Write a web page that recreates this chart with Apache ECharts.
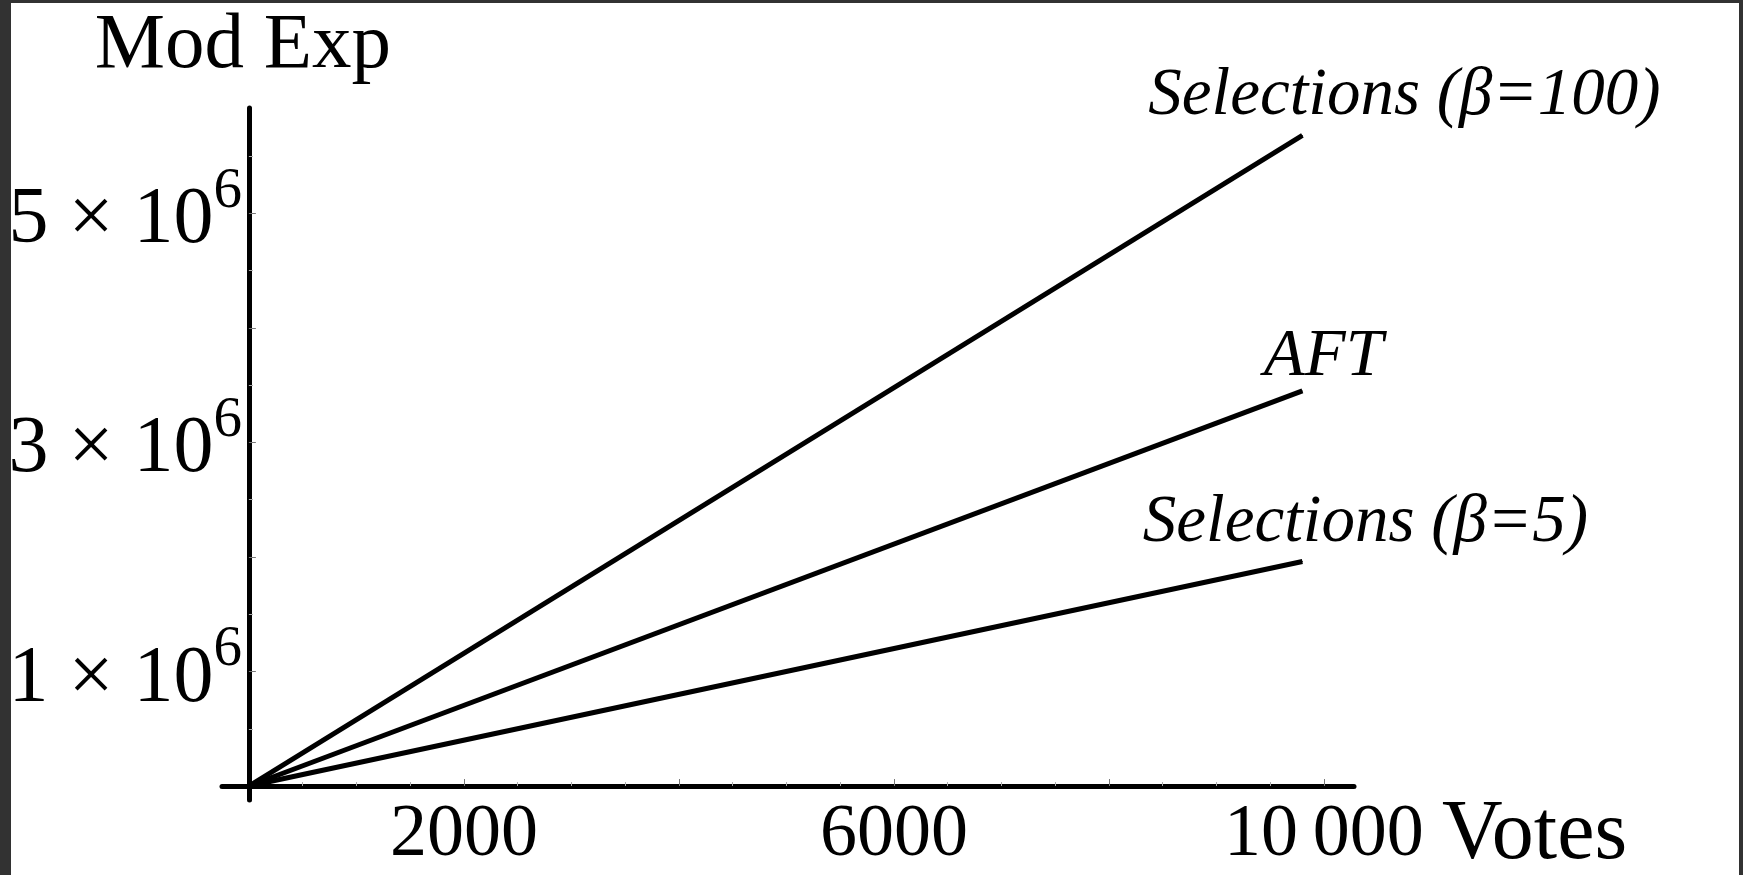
<!DOCTYPE html>
<html>
<head>
<meta charset="utf-8">
<title>Mod Exp vs Votes</title>
<script src="https://cdn.jsdelivr.net/npm/echarts@6/dist/echarts.min.js"></script>
<style>
  html, body { margin: 0; padding: 0; background: #fff; }
  #frame {
    position: absolute; left: 0; top: 0; width: 1743px; height: 875px;
    box-sizing: border-box; border-style: solid; border-color: #323232;
    border-width: 3px 4px 0 11px;
  }
  #main { position: absolute; left: 0; top: 0; width: 1743px; height: 875px; }
</style>
</head>
<body>
<div id="frame"></div>
<div id="main"></div>
<script>
// values
var votes = [0, 9800];
var selBeta100 = [0, 5680000];
var aftValues = [0, 3450000];
var selBeta5 = [0, 1960000];

var xLabelValues = [2000, 6000, 10000];
var xMajorTicks = [2000, 4000, 6000, 8000, 10000];
var xMinorTicks = [500, 1000, 1500, 2500, 3000, 3500, 4500, 5000, 5500, 6500, 7000, 7500, 8500, 9000, 9500];
var yLabelValues = [1000000, 3000000, 5000000];
var yMajorTicks = [1000000, 2000000, 3000000, 4000000, 5000000];
var yMinorTicks = [500000, 1500000, 2500000, 3500000, 4500000, 5500000];

var serif = '"Liberation Serif", "DejaVu Serif", serif';

function pairs(xs, ys) {
    var out = [];
    for (var i = 0; i < xs.length; i++) out.push([xs[i], ys[i]]);
    return out;
}

// label sits on the last point of each line
function lineData(ys, name, offset) {
    var d = pairs(votes, ys);
    var last = d.length - 1;
    d[last] = {
        value: d[last],
        label: {
            show: true,
            position: 'top',
            distance: 5,
            offset: offset,
            formatter: name,
            fontFamily: serif,
            fontStyle: 'italic',
            fontSize: 67,
            color: '#000'
        }
    };
    return d;
}

function lineSeries(name, ys, offset) {
    return {
        name: name,
        type: 'line',
        data: lineData(ys, name, offset),
        symbol: 'circle',
        symbolSize: 1,
        showSymbol: true,
        itemStyle: { color: '#000' },
        lineStyle: { color: '#000', width: 5 },
        silent: true
    };
}

var chart = echarts.init(document.getElementById('main'));

var option = {
    animation: false,
    backgroundColor: 'transparent',
    grid: { left: 222, right: 389, top: 108, bottom: 75, containLabel: false, outerBoundsMode: 'none' },
    xAxis: [
        {
            type: 'value',
            min: -250,
            max: 10280,
            name: 'Votes',
            nameLocation: 'end',
            nameGap: 88,
            nameTextStyle: {
                fontFamily: serif, fontSize: 84, color: '#000',
                align: 'left', verticalAlign: 'top', padding: [8, 0, 0, 0]
            },
            splitLine: { show: false },
            axisLine: { onZero: true, lineStyle: { color: '#000', width: 5 } },
            axisTick: {
                inside: true, length: 7, customValues: xMajorTicks,
                lineStyle: { color: '#777', width: 1 }
            },
            axisLabel: {
                customValues: xLabelValues,
                margin: -1,
                fontFamily: serif, fontSize: 74, color: '#000',
                formatter: function (v) {
                    return v >= 10000 ? '10\u2009000' : String(v);
                }
            }
        },
        {
            type: 'value',
            min: -250,
            max: 10280,
            position: 'bottom',
            splitLine: { show: false },
            axisLine: { show: false, onZero: true },
            axisTick: {
                inside: true, length: 4, customValues: xMinorTicks,
                lineStyle: { color: '#aaa', width: 1 }
            },
            axisLabel: { show: false }
        }
    ],
    yAxis: [
        {
            type: 'value',
            min: -122000,
            max: 5920000,
            name: 'Mod Exp',
            nameLocation: 'end',
            nameGap: 22,
            nameTextStyle: { fontFamily: serif, fontSize: 79, color: '#000', padding: [0, 12, 0, 0] },
            splitLine: { show: false },
            axisLine: { onZero: true, lineStyle: { color: '#000', width: 5 } },
            axisTick: {
                inside: true, length: 7, customValues: yMajorTicks,
                lineStyle: { color: '#777', width: 1 }
            },
            axisLabel: {
                customValues: yLabelValues,
                margin: -20,
                formatter: function (v) {
                    return '{n|' + (v / 1000000) + ' \u00d7 10}{s|6}';
                },
                rich: {
                    n: { fontFamily: serif, fontSize: 80, color: '#000', padding: [16, 0, 0, 0] },
                    s: { fontFamily: serif, fontSize: 57, color: '#000', padding: [0, 0, 42, 0] }
                }
            }
        },
        {
            type: 'value',
            min: -122000,
            max: 5920000,
            position: 'left',
            splitLine: { show: false },
            axisLine: { show: false, onZero: true },
            axisTick: {
                inside: true, length: 4, customValues: yMinorTicks,
                lineStyle: { color: '#aaa', width: 1 }
            },
            axisLabel: { show: false }
        }
    ],
    series: [
        lineSeries('Selections (\u03b2=100)', selBeta100, [102, 0]),
        lineSeries('AFT', aftValues, [21, 5]),
        lineSeries('Selections (\u03b2=5)', selBeta5, [63, 1])
    ]
};

chart.setOption(option);
</script>
</body>
</html>
